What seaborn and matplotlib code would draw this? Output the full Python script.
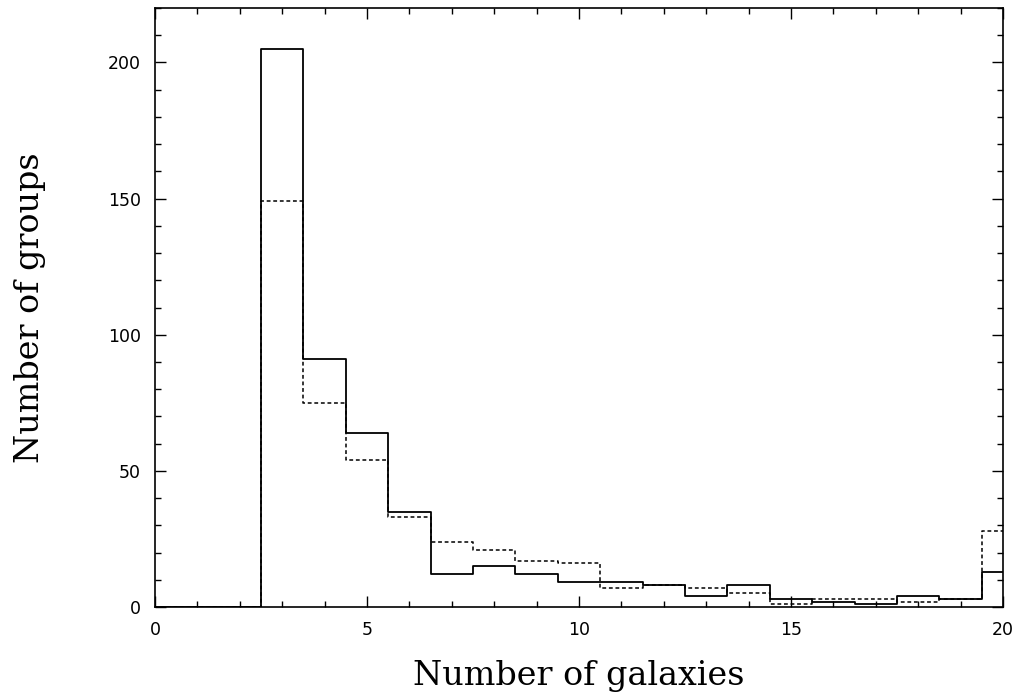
import numpy as np
import pandas as pd
import seaborn as sns
import matplotlib.pyplot as plt
from matplotlib.ticker import MultipleLocator

# number of galaxies per group (bin centres) and counts for both samples
n_gal = list(range(0, 21))
solid_counts = [0, 0, 0, 205, 91, 64, 35, 12, 15, 12, 9, 9, 8, 4, 8, 3, 2, 1, 4, 3, 13]
dashed_counts = [0, 0, 0, 149, 75, 54, 33, 24, 21, 17, 16, 7, 8, 7, 5, 1, 3, 3, 2, 3, 28]

df = pd.DataFrame({"n": n_gal, "solid": solid_counts, "dashed": dashed_counts})
edges = np.arange(-0.5, 21.0, 1.0).tolist()

sns.set_style("ticks")
plt.rcParams["font.family"] = ["DejaVu Serif"]
plt.rcParams["text.color"] = "black"
plt.rcParams["axes.labelcolor"] = "black"

fig = plt.figure(figsize=(10.16, 6.96), dpi=100)
ax = fig.add_axes([155 / 1016, 1 - 607 / 696, (1003 - 155) / 1016, (607 - 8) / 696])

sns.histplot(data=df, x="n", weights="solid", bins=edges, element="step",
             fill=False, color="black", linewidth=1.3, ax=ax)
sns.histplot(data=df, x="n", weights="dashed", bins=edges, element="step",
             fill=False, color="black", linewidth=1.1, linestyle=(0, (2.5, 1.8)), ax=ax)

ax.set_xlim(0, 20)
ax.set_ylim(0, 220)
ax.xaxis.set_major_locator(MultipleLocator(5))
ax.xaxis.set_minor_locator(MultipleLocator(1))
ax.yaxis.set_major_locator(MultipleLocator(50))
ax.yaxis.set_minor_locator(MultipleLocator(10))
ax.tick_params(which="both", direction="in", top=True, right=True, width=1.0,
               colors="black", labelcolor="black")
ax.tick_params(which="major", length=8)
ax.tick_params(which="minor", length=4.5)
ax.tick_params(axis="x", which="major", pad=10)
ax.tick_params(axis="y", which="major", pad=10)
for lab in ax.get_xticklabels() + ax.get_yticklabels():
    lab.set_family("DejaVu Sans")
    lab.set_fontsize(12.5)
for sp in ax.spines.values():
    sp.set_visible(True)
    sp.set_linewidth(1.2)
    sp.set_color("black")

ax.set_xlabel("Number of galaxies", fontsize=24, labelpad=15)
ax.set_ylabel("Number of groups", fontsize=24, labelpad=45)

fig.savefig("out.png", dpi=100)
